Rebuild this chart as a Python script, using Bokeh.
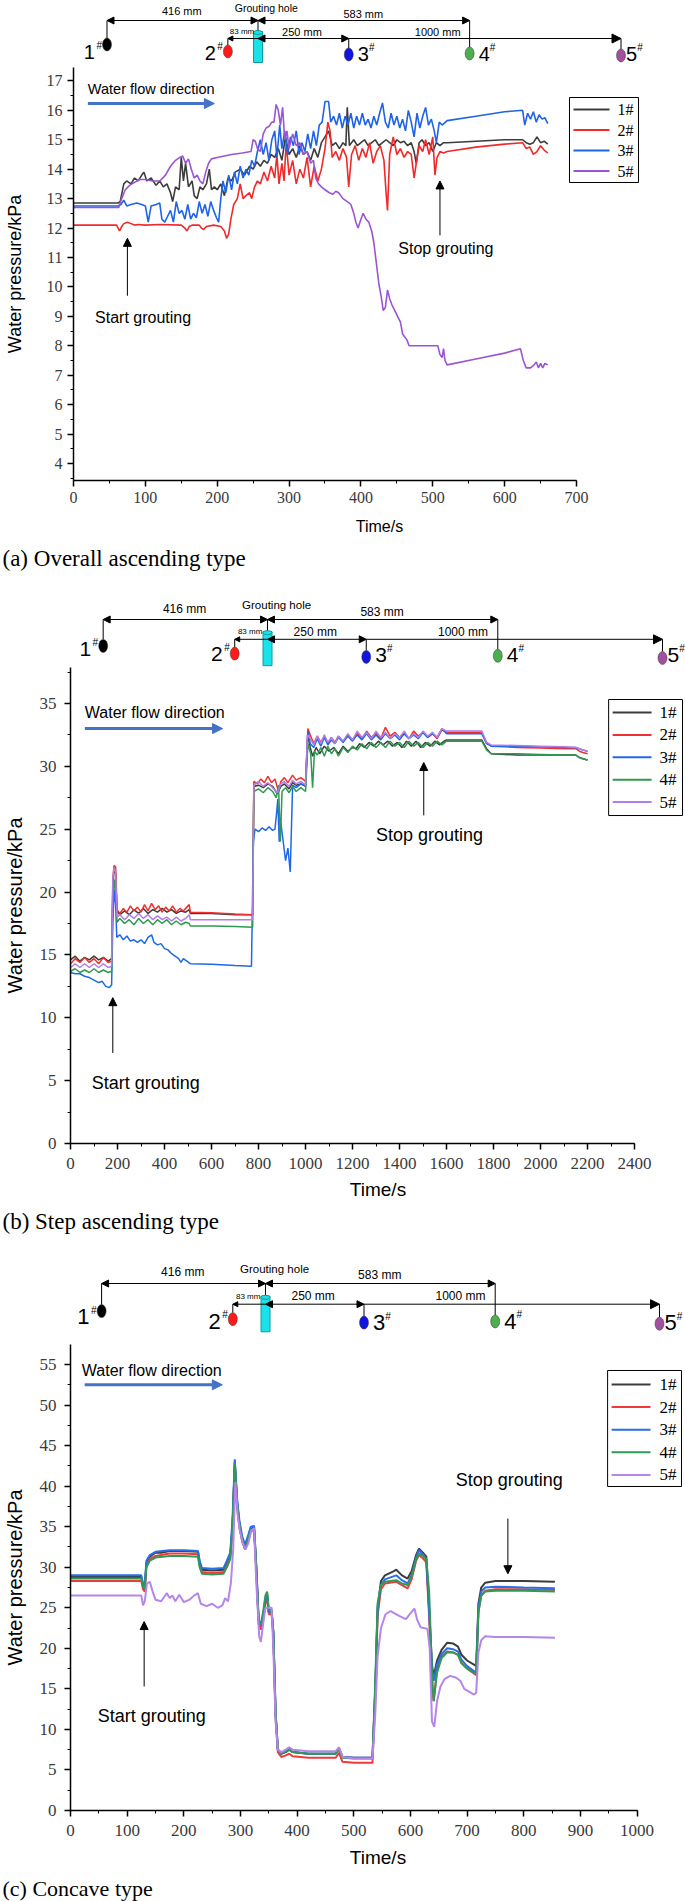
from bokeh.plotting import figure
from bokeh.layouts import column
from bokeh.models import Range1d, Label, Arrow, NormalHead, SingleIntervalTicker
from bokeh.embed import file_html
from bokeh.resources import INLINE

W = 685
SERIF = "Liberation Serif"
SANS = "Liberation Sans"

# ---------------- sensor layout (schematic) ----------------
SENSORS = ["1#", "2#", "3#", "4#", "5#"]
SENSOR_MM = [-416, -83, 250, 583, 1000]
SENSOR_COLORS = ["#000000", "#ff1a1a", "#1414e0", "#4cae4c", "#a0509f"]
DIM_TEXT = ["416 mm", "Grouting hole", "583 mm", "83 mm", "250 mm", "1000 mm"]
DIM_POS = [-210, 23, 290, -44, 121, 495]

# ---------------- (a) Overall ascending type ----------------
A_1 = [(0,12.85),(62,12.85),(65,12.9),(70,13.5),(74,13.6),(80,13.5),(85,13.7),(90,13.6),(95,13.8),(98,13.9),
       (102,13.6),(108,13.7),(115,13.45),(120,13.6),(125,13.4),(130,13.5),(135,13.2),(138,12.9),(142,13.4),(147,13.3),
       (150,14.4),(153,13.6),(156,14.2),(160,13.4),(165,13.6),(168,13.1),(172,13.0),(176,13.4),(180,13.3),(185,13.5),
       (189,14.0),(192,13.3),(196,13.4),(200,13.3),(205,13.5),(210,13.1),(215,13.7),(220,13.6),(225,13.9),(232,14.0),
       (238,13.8),(245,14.1),(250,14.0),(255,14.25),(260,14.1),(265,14.3),(270,14.2),(275,14.5),(280,14.4),(285,14.7),
       (290,14.3),(295,15.1),(300,14.5),(305,14.7),(310,14.4),(315,14.8),(320,14.5),(325,14.6),(330,14.3),(335,14.7),
       (340,14.4),(345,14.9),(350,15.1),(355,15.3),(360,14.8),(365,14.9),(370,14.7),(375,14.9),(379,14.8),(381,16.1),
       (384,14.8),(390,15.0),(395,14.8),(400,14.9),(405,15.0),(410,14.8),(415,14.9),(420,15.0),(425,14.8),(430,14.9),
       (435,15.0),(440,14.9),(445,14.8),(450,15.0),(455,14.9),(460,14.95),(465,14.8),(470,14.9),(474,14.6),(477,14.2),
       (481,14.9),(485,15.0),(490,14.8),(495,14.9),(500,14.6),(505,14.9),(510,14.8),(515,14.9),(520,14.9),(560,14.95),
       (600,15.0),(625,15.0),(630,14.9),(635,14.85),(640,14.9),(645,15.1),(650,14.9),(655,14.95),(660,14.85)]
A_2 = [(0,12.1),(60,12.1),(64,11.9),(67,12.05),(70,12.15),(75,12.2),(80,12.15),(85,12.1),(90,12.12),(100,12.1),
       (120,12.12),(150,12.1),(155,12.0),(158,11.9),(161,12.05),(165,12.1),(175,12.1),(178,12.0),(181,11.95),(185,12.05),
       (195,12.1),(205,12.05),(210,11.9),(213,11.65),(216,11.8),(219,12.3),(223,12.8),(228,13.0),(232,13.5),(236,13.0),
       (240,13.1),(245,13.2),(248,13.0),(252,13.4),(256,13.6),(260,13.5),(265,13.9),(270,13.6),(275,14.1),(280,13.7),
       (283,14.5),(286,13.5),(290,14.2),(293,13.6),(296,14.9),(300,13.8),(305,14.3),(310,13.5),(315,14.0),(320,13.7),
       (325,14.4),(330,13.4),(335,14.1),(340,13.6),(345,14.0),(350,14.7),(354,15.6),(357,15.3),(360,14.4),(365,14.6),
       (370,14.3),(375,14.7),(380,14.4),(383,13.4),(387,14.5),(392,14.8),(397,14.3),(402,14.7),(407,14.4),(412,14.9),
       (417,14.2),(422,14.6),(427,14.8),(432,14.3),(435,13.2),(437,12.6),(440,14.5),(445,15.1),(450,14.5),(455,14.7),
       (460,14.4),(465,14.6),(470,14.5),(474,13.7),(477,14.2),(481,14.8),(486,14.6),(490,15.0),(495,14.5),(500,15.1),
       (503,13.8),(506,14.4),(510,14.6),(515,14.55),(520,14.6),(560,14.75),(600,14.85),(625,14.9),(630,14.7),(635,14.75),
       (640,14.5),(645,14.6),(650,14.8),(655,14.65),(660,14.55)]
A_3 = [(0,12.75),(62,12.75),(66,12.8),(70,12.95),(74,12.75),(80,12.8),(88,12.85),(95,12.8),(100,12.75),(104,12.2),
       (108,12.75),(115,12.8),(120,12.85),(123,12.3),(127,12.2),(131,12.4),(135,12.6),(139,12.2),(143,12.9),(147,12.5),
       (151,12.6),(155,12.3),(159,12.8),(163,12.3),(167,12.5),(171,12.35),(175,12.9),(179,12.5),(183,12.8),(187,12.4),
       (191,12.9),(195,12.6),(199,12.35),(202,12.2),(205,13.0),(208,13.6),(212,13.2),(216,13.8),(220,13.3),(224,13.9),
       (228,13.5),(232,14.1),(236,13.7),(240,14.0),(244,13.8),(248,14.3),(252,14.1),(256,14.6),(260,15.0),(264,14.5),
       (268,14.9),(272,14.3),(276,15.0),(280,15.3),(283,14.4),(287,15.5),(290,14.7),(294,15.3),(298,14.5),(302,15.1),
       (306,14.8),(310,15.3),(314,14.5),(318,14.9),(322,14.6),(326,15.2),(330,14.7),(334,15.3),(338,14.8),(342,15.5),
       (346,15.6),(350,16.3),(355,16.3),(358,15.6),(362,15.8),(366,15.5),(370,15.9),(374,15.4),(378,15.8),(382,15.5),
       (386,15.9),(390,15.4),(394,15.8),(398,15.5),(402,15.9),(406,15.5),(410,15.7),(414,15.4),(418,15.8),(422,15.5),
       (426,15.9),(430,16.25),(434,15.6),(438,15.4),(442,15.9),(446,15.5),(450,15.8),(454,15.4),(458,15.7),(462,15.3),
       (466,16.0),(470,15.6),(474,15.1),(478,15.9),(482,15.4),(486,15.8),(490,16.1),(494,15.5),(498,15.7),(502,15.3),
       (505,14.9),(509,15.6),(513,15.5),(520,15.65),(560,15.8),(600,15.95),(625,16.0),(628,15.5),(632,15.9),(636,15.7),
       (640,15.95),(644,15.6),(648,15.85),(652,15.7),(656,15.75),(660,15.55)]
A_5 = [(0,12.7),(63,12.7),(67,13.0),(72,13.3),(78,13.45),(85,13.55),(92,13.65),(100,13.65),(110,13.6),(120,13.6),
       (128,13.8),(135,14.1),(142,14.3),(148,14.4),(152,14.45),(156,14.2),(160,14.35),(164,14.0),(168,13.7),(172,13.8),
       (176,13.6),(180,13.5),(184,13.9),(188,14.2),(192,14.35),(200,14.4),(210,14.45),(220,14.5),(235,14.55),(247,14.6),
       (250,15.0),(253,14.95),(256,14.7),(260,14.6),(264,15.2),(268,15.4),(272,15.45),(276,15.6),(279,15.6),(282,16.2),
       (285,16.0),(288,15.5),(291,16.1),(294,15.0),(297,15.3),(300,14.7),(305,15.2),(310,14.8),(315,14.9),(320,14.5),
       (325,14.6),(330,14.2),(334,14.3),(337,13.7),(341,13.5),(345,13.4),(350,13.3),(356,13.2),(361,13.15),(365,13.25),
       (369,13.2),(375,13.0),(381,12.9),(386,12.8),(390,12.5),(393,12.2),(396,12.0),(400,12.3),(403,12.5),(407,12.3),
       (411,12.2),(415,11.9),(418,11.5),(421,10.9),(425,10.1),(428,9.7),(431,9.2),(434,9.3),(437,9.9),(440,9.6),
       (443,9.4),(447,9.2),(451,9.0),(455,8.8),(458,8.4),(461,8.3),(464,8.2),(467,8.0),(485,8.0),(507,8.0),
       (510,7.7),(513,7.6),(515,7.9),(517,7.5),(520,7.35),(560,7.55),(600,7.75),(622,7.9),(626,7.5),(630,7.25),
       (636,7.25),(641,7.35),(644,7.45),(647,7.25),(650,7.4),(653,7.25),(656,7.4),(660,7.35)]
A_NAMES = ["1#", "2#", "3#", "5#"]
A_COLORS = ["#3c3c3c", "#f02a2a", "#1f63e6", "#9a55d4"]

# ---------------- (b) Step ascending type ----------------
B_1 = [(0,14.6),(20,14.9),(40,14.5),(60,14.8),(80,14.6),(100,14.9),(120,14.6),(140,14.8),(160,14.5),(175,14.7),
       (180,20.0),(185,21.8),(192,21.5),(198,18.5),(210,18.2),(230,18.5),(250,18.2),(270,18.6),(290,18.3),(310,18.7),
       (330,18.3),(350,18.6),(370,18.4),(390,18.7),(410,18.4),(430,18.6),(450,18.3),(470,18.5),(490,18.4),(505,18.6),
       (510,18.3),(600,18.3),(700,18.2),(775,18.2),(780,28.4),(800,28.5),(820,28.3),(840,28.6),(860,28.4),(880,27.8),
       (895,28.4),(910,28.6),(930,28.2),(945,28.7),(960,28.5),(980,28.6),(1000,28.4),(1010,32.6),(1020,31.5),(1030,30.8),
       (1045,31.5),(1060,31.0),(1080,31.6),(1100,31.2),(1120,31.5),(1140,31.0),(1160,31.6),(1180,31.2),(1200,31.5),(1215,31.4),
       (1230,31.8),(1250,31.5),(1270,31.9),(1290,31.6),(1310,32.0),(1330,31.7),(1350,32.0),(1370,31.6),(1390,31.9),(1410,31.5),
       (1430,32.0),(1450,31.6),(1470,32.0),(1490,31.5),(1510,31.9),(1530,31.6),(1550,32.0),(1570,31.7),(1590,32.0),(1600,32.1),
       (1700,32.1),(1750,32.1),(1770,31.4),(1790,31.0),(1900,30.9),(2000,30.9),(2100,30.9),(2150,30.9),(2165,30.7),(2180,30.6),
       (2200,30.5)]
B_2 = [(0,14.3),(20,14.7),(40,14.4),(60,14.8),(80,14.4),(100,14.7),(120,14.3),(140,14.8),(160,14.4),(175,14.5),
       (180,21.0),(185,22.1),(192,22.0),(198,18.6),(210,18.3),(225,18.7),(240,18.4),(255,18.9),(270,18.5),(285,18.8),
       (300,18.4),(315,19.0),(330,18.5),(345,19.1),(360,18.6),(375,18.9),(390,18.4),(405,18.8),(420,18.5),(435,18.9),
       (450,18.4),(465,18.7),(480,18.5),(495,18.8),(505,19.0),(510,18.4),(600,18.35),(700,18.25),(775,18.2),(780,28.8),
       (795,28.6),(810,29.0),(825,28.7),(840,29.2),(855,28.7),(870,29.0),(885,28.0),(895,28.8),(910,29.1),(925,28.7),
       (945,29.3),(960,28.9),(980,29.1),(1000,28.8),(1010,33.0),(1020,32.5),(1035,31.8),(1050,32.4),(1065,31.9),(1080,32.4),
       (1095,31.8),(1110,32.3),(1125,31.9),(1140,32.4),(1160,32.0),(1180,32.5),(1200,32.1),(1220,32.6),(1240,32.2),(1260,32.8),
       (1280,32.3),(1300,32.6),(1320,32.2),(1340,33.1),(1360,32.4),(1380,32.7),(1400,32.3),(1420,32.6),(1440,32.2),(1460,32.8),
       (1480,32.4),(1500,32.7),(1520,32.3),(1540,32.6),(1560,32.2),(1580,32.9),(1600,32.7),(1700,32.7),(1750,32.7),(1770,31.9),
       (1790,31.6),(1900,31.5),(2000,31.45),(2100,31.4),(2150,31.4),(2165,31.2),(2180,31.1),(2200,31.0)]
B_3 = [(0,13.6),(20,13.5),(40,13.5),(60,13.3),(80,13.2),(100,13.0),(120,12.8),(135,12.9),(150,12.5),(165,12.4),
       (175,12.6),(180,17.5),(186,20.2),(192,19.0),(197,16.4),(210,16.6),(225,16.2),(240,16.5),(255,16.1),(270,16.2),
       (285,16.0),(300,16.2),(315,15.9),(330,16.4),(345,16.6),(355,16.0),(370,15.8),(385,15.9),(400,15.5),(415,15.4),
       (430,15.1),(445,14.9),(460,14.7),(470,14.4),(480,14.7),(495,14.5),(510,14.3),(600,14.25),(700,14.15),(770,14.1),
       (778,24.0),(785,25.0),(800,24.8),(815,25.1),(830,24.9),(845,25.2),(860,24.9),(870,25.0),(878,26.5),(882,27.4),
       (888,24.0),(895,25.5),(905,24.0),(915,22.5),(925,23.5),(935,21.6),(945,28.5),(960,28.3),(980,28.6),(1000,28.5),
       (1010,32.8),(1020,31.8),(1035,31.5),(1050,32.2),(1065,31.6),(1080,32.3),(1095,31.7),(1110,32.1),(1125,31.8),(1140,32.3),
       (1160,31.9),(1180,32.4),(1200,32.0),(1220,32.5),(1240,32.1),(1260,32.6),(1280,32.1),(1300,32.5),(1320,32.1),(1340,32.6),
       (1360,32.2),(1380,32.5),(1400,32.1),(1420,32.6),(1440,32.2),(1460,32.5),(1480,32.2),(1500,32.7),(1520,32.3),(1540,32.6),
       (1560,32.3),(1580,33.0),(1600,32.6),(1700,32.6),(1750,32.6),(1770,31.8),(1790,31.6),(1900,31.6),(2000,31.55),(2100,31.5),
       (2150,31.5),(2165,31.4),(2180,31.3),(2200,31.2)]
B_4 = [(0,13.7),(20,13.9),(40,13.6),(60,13.8),(80,13.6),(100,13.9),(120,13.6),(140,13.8),(160,13.6),(175,13.7),
       (180,19.5),(186,21.0),(192,20.0),(198,17.6),(210,17.9),(230,17.5),(250,17.8),(270,17.4),(290,17.9),(310,17.5),
       (330,17.8),(350,17.4),(370,17.8),(390,17.5),(410,17.8),(430,17.4),(450,17.7),(470,17.4),(490,17.6),(505,17.5),
       (510,17.3),(600,17.3),(700,17.25),(775,17.2),(780,28.0),(800,28.2),(820,27.9),(840,28.3),(860,28.0),(875,27.5),
       (885,28.5),(893,24.0),(900,28.0),(915,28.3),(930,27.9),(945,28.4),(960,28.0),(980,28.3),(1000,28.0),(1010,31.8),
       (1022,31.0),(1030,28.3),(1038,31.2),(1050,30.9),(1065,31.5),(1080,30.8),(1095,31.6),(1110,31.0),(1125,31.4),(1140,30.8),
       (1160,31.5),(1180,31.1),(1200,31.6),(1220,31.3),(1240,31.8),(1260,31.4),(1280,31.9),(1300,31.5),(1320,31.9),(1340,31.5),
       (1360,32.0),(1380,31.6),(1400,31.9),(1420,31.5),(1440,32.0),(1460,31.6),(1480,31.9),(1500,31.5),(1520,31.9),(1540,31.6),
       (1560,32.0),(1580,31.7),(1600,32.0),(1700,32.0),(1750,32.0),(1770,31.3),(1790,31.0),(1900,31.0),(2000,30.95),(2100,30.9),
       (2150,30.9),(2165,30.7),(2180,30.6),(2200,30.5)]
B_5 = [(0,14.0),(20,14.3),(40,14.0),(60,14.3),(80,14.0),(100,14.3),(120,14.0),(140,14.3),(160,14.0),(175,14.1),
       (180,21.0),(185,21.9),(192,21.6),(198,18.0),(210,18.2),(230,17.8),(250,18.2),(270,17.9),(290,18.3),(310,17.9),
       (330,18.2),(350,17.8),(370,18.1),(390,17.8),(410,18.0),(430,17.7),(450,18.0),(470,17.7),(490,17.9),(505,18.2),
       (510,17.8),(600,17.8),(700,17.8),(775,17.8),(780,28.5),(800,28.8),(820,28.4),(840,28.7),(860,28.3),(880,27.9),
       (895,28.6),(910,28.8),(930,28.4),(945,28.9),(960,28.6),(980,28.8),(1000,28.5),(1008,32.5),(1020,32.2),(1035,31.7),
       (1050,32.4),(1065,31.8),(1080,32.5),(1095,31.9),(1110,32.3),(1125,31.8),(1140,32.4),(1160,32.0),(1180,32.6),(1200,32.1),
       (1220,32.8),(1240,32.3),(1260,32.7),(1280,32.2),(1300,32.8),(1320,32.3),(1340,32.7),(1360,32.2),(1380,32.6),(1400,32.3),
       (1420,32.8),(1440,32.2),(1460,32.6),(1480,32.3),(1500,32.8),(1520,32.4),(1540,32.7),(1560,32.3),(1580,33.0),(1600,32.8),
       (1700,32.8),(1750,32.8),(1770,31.9),(1790,31.7),(1900,31.65),(2000,31.6),(2100,31.55),(2150,31.5),(2165,31.4),(2180,31.3),
       (2200,31.2)]
B_NAMES = ["1#", "2#", "3#", "4#", "5#"]
B_COLORS = ["#3c3c3c", "#f03030", "#2068e8", "#2f9a4f", "#b07ee8"]

# ---------------- (c) Concave type ----------------
C_1 = [(0,28.8),(125,28.8),(128,27.8),(131,27.5),(134,30.5),(140,31.3),(150,31.8),(160,31.8),(175,32.0),(200,32.0),
       (225,31.9),(228,30.5),(232,29.7),(250,29.6),(270,29.7),(276,30.5),(282,31.5),(286,35.0),(290,43.0),(294,38.0),
       (298,35.5),(303,33.5),(308,32.5),(313,33.5),(318,34.7),(324,34.9),(328,30.0),(332,23.5),(336,22.5),(340,24.0),
       (344,26.0),(347,26.8),(350,24.5),(355,24.5),(358,22.0),(362,12.0),(366,7.5),(372,7.0),(380,7.2),(386,7.5),
       (392,7.2),(420,7.0),(468,7.0),(474,7.7),(480,6.6),(500,6.5),(533,6.5),(538,15.0),(542,25.0),(548,28.3),
       (555,29.0),(570,29.5),(575,29.7),(585,29.0),(595,28.6),(602,29.5),(610,31.5),(615,32.3),(622,31.8),(628,31.3),
       (633,25.0),(638,18.0),(641,16.5),(647,18.5),(655,19.8),(665,20.7),(675,20.6),(684,20.2),(690,19.2),(700,18.5),
       (712,18.0),(716,17.8),(720,25.5),(725,27.5),(732,28.1),(750,28.3),(800,28.3),(855,28.2)]
C_2 = [(0,28.3),(125,28.3),(128,27.3),(131,27.0),(134,30.2),(140,31.0),(150,31.4),(175,31.7),(200,31.7),(225,31.6),
       (228,30.2),(232,29.4),(250,29.3),(270,29.4),(276,30.2),(282,31.2),(286,35.0),(290,42.5),(294,37.5),(298,35.0),
       (303,33.2),(308,32.2),(313,33.2),(318,34.4),(324,34.6),(328,29.5),(332,23.0),(336,22.3),(340,23.5),(344,25.5),
       (347,26.3),(350,24.2),(355,24.2),(358,21.5),(362,11.5),(366,7.2),(372,6.6),(380,6.8),(386,7.0),(392,6.7),
       (420,6.5),(468,6.5),(474,7.1),(480,6.0),(500,5.9),(533,5.9),(538,14.0),(542,24.0),(548,27.3),(555,28.0),
       (575,28.2),(585,27.8),(595,27.4),(602,28.5),(610,30.8),(615,31.5),(622,31.1),(628,30.6),(633,24.0),(638,15.0),
       (641,13.5),(647,17.5),(655,19.0),(665,19.6),(675,19.5),(684,19.2),(690,18.2),(700,17.5),(712,16.9),(716,16.7),
       (720,24.5),(725,26.5),(732,27.1),(750,27.3),(800,27.3),(855,27.2)]
C_3 = [(0,29.0),(125,29.0),(128,28.0),(131,27.8),(134,30.8),(140,31.5),(150,31.9),(175,32.1),(200,32.1),(225,32.0),
       (228,30.8),(232,29.9),(250,29.8),(270,29.9),(276,30.8),(282,31.8),(286,36.0),(290,43.3),(294,38.5),(298,35.8),
       (303,33.8),(308,32.8),(313,33.8),(318,35.0),(324,35.1),(328,30.0),(332,23.5),(336,22.8),(340,24.0),(344,26.0),
       (347,26.5),(350,24.5),(355,24.5),(358,22.0),(362,12.0),(366,7.5),(372,7.0),(380,7.3),(386,7.6),(392,7.2),
       (420,7.0),(468,7.0),(474,7.6),(480,6.6),(500,6.5),(533,6.5),(538,15.0),(542,24.5),(548,27.8),(555,28.5),
       (575,29.0),(585,28.4),(595,28.0),(602,29.0),(610,31.2),(615,32.1),(622,31.6),(628,31.0),(633,24.5),(638,17.5),
       (641,16.0),(647,18.0),(655,19.3),(665,20.0),(675,19.9),(684,19.6),(690,18.6),(700,17.8),(712,17.2),(716,17.0),
       (720,25.0),(725,27.0),(732,27.5),(750,27.6),(800,27.5),(855,27.4)]
C_4 = [(0,28.6),(125,28.6),(128,27.6),(131,27.3),(134,30.0),(140,30.8),(150,31.2),(175,31.4),(200,31.4),(225,31.3),
       (228,30.0),(232,29.2),(250,29.1),(270,29.2),(276,30.0),(282,31.0),(286,35.0),(290,42.8),(294,38.0),(298,35.3),
       (303,33.3),(308,32.3),(313,33.4),(318,34.6),(324,34.8),(328,29.5),(332,23.5),(336,23.0),(340,24.5),(344,26.5),
       (347,27.0),(350,24.8),(355,24.8),(358,22.0),(362,12.0),(366,7.5),(372,7.0),(380,7.3),(386,7.5),(392,7.2),
       (420,7.0),(468,7.0),(474,7.6),(480,6.5),(500,6.4),(533,6.4),(538,16.0),(542,25.5),(548,27.8),(555,28.2),
       (575,28.4),(585,28.0),(595,27.8),(602,28.8),(610,31.0),(615,31.7),(622,31.4),(628,31.0),(633,27.0),(638,17.0),
       (641,13.5),(647,17.0),(655,18.8),(665,19.5),(675,19.5),(684,19.2),(690,18.2),(700,17.5),(712,17.0),(716,16.8),
       (720,24.5),(725,26.5),(732,27.0),(750,27.1),(800,27.1),(855,27.0)]
C_5 = [(0,26.5),(125,26.5),(128,25.3),(131,25.8),(135,28.0),(140,28.2),(145,27.0),(150,26.0),(160,25.8),(165,26.3),
       (170,26.8),(175,26.2),(180,26.5),(185,25.8),(192,26.6),(200,25.7),(210,26.0),(218,26.5),(225,26.8),(230,25.5),
       (240,25.2),(250,25.5),(260,25.0),(268,25.3),(273,26.2),(278,25.8),(283,28.0),(287,32.0),(291,40.5),(295,36.5),
       (299,34.5),(304,33.0),(309,32.2),(314,33.0),(319,34.5),(324,34.8),(328,28.0),(333,21.5),(336,20.8),(340,23.0),
       (344,25.0),(350,25.0),(355,25.0),(358,20.0),(362,11.0),(366,7.5),(372,7.2),(380,7.5),(386,7.8),(392,7.5),
       (420,7.3),(468,7.3),(474,7.8),(480,6.6),(500,6.4),(533,6.4),(538,12.0),(542,19.0),(548,22.5),(556,24.2),
       (565,24.6),(580,24.0),(592,23.6),(600,24.3),(607,24.9),(612,23.5),(618,22.6),(630,22.4),(634,20.0),(638,11.0),
       (642,10.3),(647,13.5),(653,15.3),(660,16.2),(670,16.6),(680,16.4),(688,16.0),(695,15.0),(705,14.6),(712,14.3),
       (716,14.5),(720,19.5),(725,21.0),(732,21.5),(750,21.4),(800,21.4),(855,21.3)]
C_NAMES = ["1#", "2#", "3#", "4#", "5#"]
C_COLORS = ["#3c3c3c", "#f03a3a", "#2a6ee8", "#2f9a55", "#b485ea"]


def split(pairs):
    return [q[0] for q in pairs], [q[1] for q in pairs]


def no_align(p):
    try:
        p.frame_align = False
    except Exception:
        pass


def note(p, x, y, text, size, align="left", font=SANS, baseline="middle", x_offset=0, color="black"):
    p.add_layout(Label(x=x, y=y, text=text, text_font=font, text_font_size=f"{size}px",
                       text_align=align, text_baseline=baseline, x_offset=x_offset,
                       text_color=color))


def arrow(p, x0, y0, x1, y1, color="black", lw=1.0, size=8, both=False):
    def head():
        return NormalHead(size=size, fill_color=color, line_color=color, line_width=1)
    p.add_layout(Arrow(x_start=x0, y_start=y0, x_end=x1, y_end=y1, line_color=color,
                       line_width=lw, end=head(), start=head() if both else None))


def blank(h, xr):
    p = figure(width=W, height=h, x_range=Range1d(*xr), y_range=Range1d(h, 0),
               output_backend="svg", toolbar_location=None, min_border=0,
               x_axis_location=None, y_axis_location=None)
    no_align(p)
    p.grid.visible = False
    p.outline_line_color = None
    return p


def schematic(h, hole_x, scale, y1, vs, mids, big, caption=None, cap_y=0, dim_font=11):
    x0 = -hole_x / scale
    p = blank(h, (x0, (W - hole_x) / scale))
    if caption:
        note(p, x0, cap_y, caption, 23, font=SERIF, x_offset=2)
    m = SENSOR_MM
    y2 = y1 + 18 * vs
    arrow(p, m[0], y1, 0, y1, size=7, both=True)
    arrow(p, 0, y1, m[3], y1, size=7, both=True)
    arrow(p, 0, y2, m[1], y2, size=5)
    arrow(p, 0, y2, m[2], y2, size=7, both=True)
    arrow(p, m[2], y2, m[4], y2, size=9)
    mk = [y1 + d * vs for d in (24, 31, 34, 33, 35)]
    tops = [v - 6.5 for v in mk]
    p.segment(x0=[m[0], m[3], m[1], m[2], m[4]], y0=[y1, y1, y2, y2, y2],
              x1=[m[0], m[3], m[1], m[2], m[4]], y1=[tops[0], tops[3], tops[1], tops[2], tops[4]],
              line_color="black", line_width=1)
    # grouting hole
    p.segment(x0=[0], y0=[y1], x1=[0], y1=[y1 + 11 * vs], line_color="black", line_width=1)
    p.quad(left=[-4.5 / scale], right=[4.5 / scale], top=[y1 + 11 * vs], bottom=[y1 + 42 * vs],
           fill_color="#19e3e8", line_color="#109aa0", line_width=1)
    p.ellipse(x=[0], y=[y1 + 12 * vs], width=9, height=4, width_units="screen",
              height_units="screen", fill_color="#19e3e8", line_color="#109aa0", line_width=1)
    p.ellipse(x=m, y=mk, width=9, height=13, width_units="screen", height_units="screen",
              fill_color=SENSOR_COLORS, line_color="#333333", line_width=0.5)
    # dimension texts
    offs = [-10, -13, -7, 11, 11, 11]
    sizes = [dim_font, dim_font - 0.5, dim_font, 8, dim_font, dim_font]
    for t, xp, o, s in zip(DIM_TEXT, DIM_POS, offs, sizes):
        note(p, xp, y1 + o * vs, t, s, align="center")
    # sensor names with superscript '#'
    for i, name in enumerate(SENSORS):
        yc = y1 + mids[i] * vs
        ys = yc - 0.3 * big
        if i < 2:
            note(p, m[i], yc, name[0], big, align="right", x_offset=-12)
            note(p, m[i], ys, "#", 10, align="right", x_offset=-5)
        else:
            gap = 9 if i < 4 else 5
            note(p, m[i], yc, name[0], big, align="left", x_offset=gap)
            note(p, m[i], ys, "#", 10, align="left", x_offset=gap + 0.56 * big)
    return p


def pressure_plot(h, x_end, x_max, yr, x_int, y_int, bl, bt, bb, tick_px, ylab_px, xlab_px,
                  ylab_sd, xlab_sd, tick_sd):
    p = figure(width=W, height=h, x_range=Range1d(0, x_end), y_range=Range1d(*yr),
               output_backend="svg", toolbar_location=None,
               min_border_left=bl, min_border_right=0, min_border_top=bt, min_border_bottom=bb)
    no_align(p)
    p.grid.visible = False
    p.outline_line_color = None
    p.xaxis.ticker = SingleIntervalTicker(interval=x_int, num_minor_ticks=2)
    p.yaxis.ticker = SingleIntervalTicker(interval=y_int, num_minor_ticks=2)
    p.xaxis.bounds = (0, x_max)
    for ax in (p.xaxis[0], p.yaxis[0]):
        ax.axis_line_width = 1.5
        ax.axis_line_color = "black"
        ax.major_tick_line_width = 1.5
        ax.minor_tick_line_width = 1
        ax.major_tick_in = 0
        ax.major_tick_out = 6
        ax.minor_tick_in = 0
        ax.minor_tick_out = 3
        ax.major_label_text_font = SERIF
        ax.major_label_text_color = "#3a3a3a"
        ax.major_label_text_font_size = f"{tick_px}px"
        ax.major_label_standoff = tick_sd
        ax.axis_label_text_font = SANS
        ax.axis_label_text_font_style = "normal"
        ax.axis_label_text_color = "black"
    p.xaxis.axis_label = "Time/s"
    p.yaxis.axis_label = "Water pressure/kPa"
    p.xaxis.axis_label_text_font_size = f"{xlab_px}px"
    p.yaxis.axis_label_text_font_size = f"{ylab_px}px"
    p.xaxis.axis_label_standoff = xlab_sd
    p.yaxis.axis_label_standoff = ylab_sd
    return p


def add_series(p, series, colors, lw):
    for s, c in zip(series, colors):
        x, y = split(s)
        p.line(x, y, line_color=c, line_width=lw)


def draw_legend(p, geom, names, colors, box, first, step, line_x, label_x, font_px):
    # geom: frame left (canvas px), frame top (canvas px), px per x unit, px per y unit, y at top
    fl, ft, sx, sy, ytop = geom
    dx = lambda px: (px - fl) / sx
    dy = lambda py: ytop - (py - ft) / sy
    bx0, bx1, by0, by1 = box
    p.quad(left=[dx(bx0)], right=[dx(bx1)], top=[dy(by0)], bottom=[dy(by1)],
           fill_color="white", line_color="black", line_width=1)
    ys = [dy(first + i * step) for i in range(len(names))]
    p.segment(x0=[dx(line_x[0])] * len(names), x1=[dx(line_x[1])] * len(names), y0=ys, y1=ys,
              line_color=colors, line_width=2)
    for n, yv in zip(names, ys):
        note(p, dx(label_x), yv, n, font_px, font=SERIF)


def annotate(p, flow, start, stop, flow_px, note_px):
    fx, fy, ax0, ax1, ay = flow
    note(p, fx, fy, "Water flow direction", flow_px)
    arrow(p, ax0, ay, ax1, ay, color="#4472c4", lw=3, size=10)
    sx, sy, sax, say0, say1 = start
    note(p, sx, sy, "Start grouting", note_px)
    arrow(p, sax, say0, sax, say1, size=8)
    tx, ty, tax, tay0, tay1 = stop
    note(p, tx, ty, "Stop grouting", note_px)
    arrow(p, tax, tay0, tax, tay1, size=8)


# ---------- panel (a) ----------
s_a = schematic(66, 257.5, 0.363, 20, 1.0, [31, 32, 33, 33, 33], 20, dim_font=11)
p_a = pressure_plot(479, 851.7, 700, (3.422, 17.455), 100, 1, 73, 1, 65, 16, 18, 16, 19, 12, 5)
add_series(p_a, [A_1, A_2, A_3, A_5], A_COLORS, 1.6)
annotate(p_a, (20, 16.74, 20, 196, 16.23), (30, 8.96, 75, 9.7, 11.65),
         (452, 11.3, 510, 11.75, 13.6), 14.5, 16)
draw_legend(p_a, (73, 1, 0.71857, 29.43, 17.455), A_NAMES, A_COLORS,
            (569, 638, 31, 116), 43, 20.5, (573, 609), 617, 16)

# ---------- panel (b) ----------
s_b = schematic(122, 267, 0.395, 74, 1.1, [27, 31, 32, 32, 32], 21,
                caption="(a) Overall ascending type", cap_y=13, dim_font=12)
p_b = pressure_plot(541, 2616.6, 2400, (0, 37.86), 200, 5, 69, 0, 65, 17, 20, 19, 11, 7, 8)
add_series(p_b, [B_1, B_2, B_3, B_4, B_5], B_COLORS, 1.5)
annotate(p_b, (61, 34.3, 61, 647, 33.0), (90, 4.85, 180, 7.2, 11.6),
         (1300, 24.5, 1503, 26.1, 30.3), 16, 18)
draw_legend(p_b, (69, 0, 0.235417, 12.571, 37.86), B_NAMES, B_COLORS,
            (608, 682, 32, 148), 45, 22.4, (612, 651), 659, 17)

# ---------- panel (c) ----------
s_c = schematic(136, 265, 0.394, 75, 1.15, [29, 33, 34, 33, 34], 22,
                caption="(b) Step ascending type", cap_y=13, dim_font=12)
p_c = pressure_plot(531, 1085.5, 1000, (0, 57.47), 100, 5, 69, 0, 65, 17, 20, 19, 11, 8, 8)
add_series(p_c, [C_1, C_2, C_3, C_4, C_5], C_COLORS, 2)
annotate(p_c, (20, 54.3, 25, 268, 52.5), (48, 11.6, 130, 15.3, 23.3),
         (680, 40.7, 772, 36.0, 29.2), 16, 18)
draw_legend(p_c, (69, 0, 0.5675, 8.109, 57.47), C_NAMES, C_COLORS,
            (607, 681, 26, 142), 40, 22.6, (611, 650), 659, 17)

cap_c = blank(26, (0, W))
note(cap_c, 0, 13, "(c) Concave type", 22, font=SERIF, x_offset=2)

layout = column(s_a, p_a, s_b, p_b, s_c, p_c, cap_c, spacing=0)
open("out.html", "w").write(file_html(layout, INLINE))
